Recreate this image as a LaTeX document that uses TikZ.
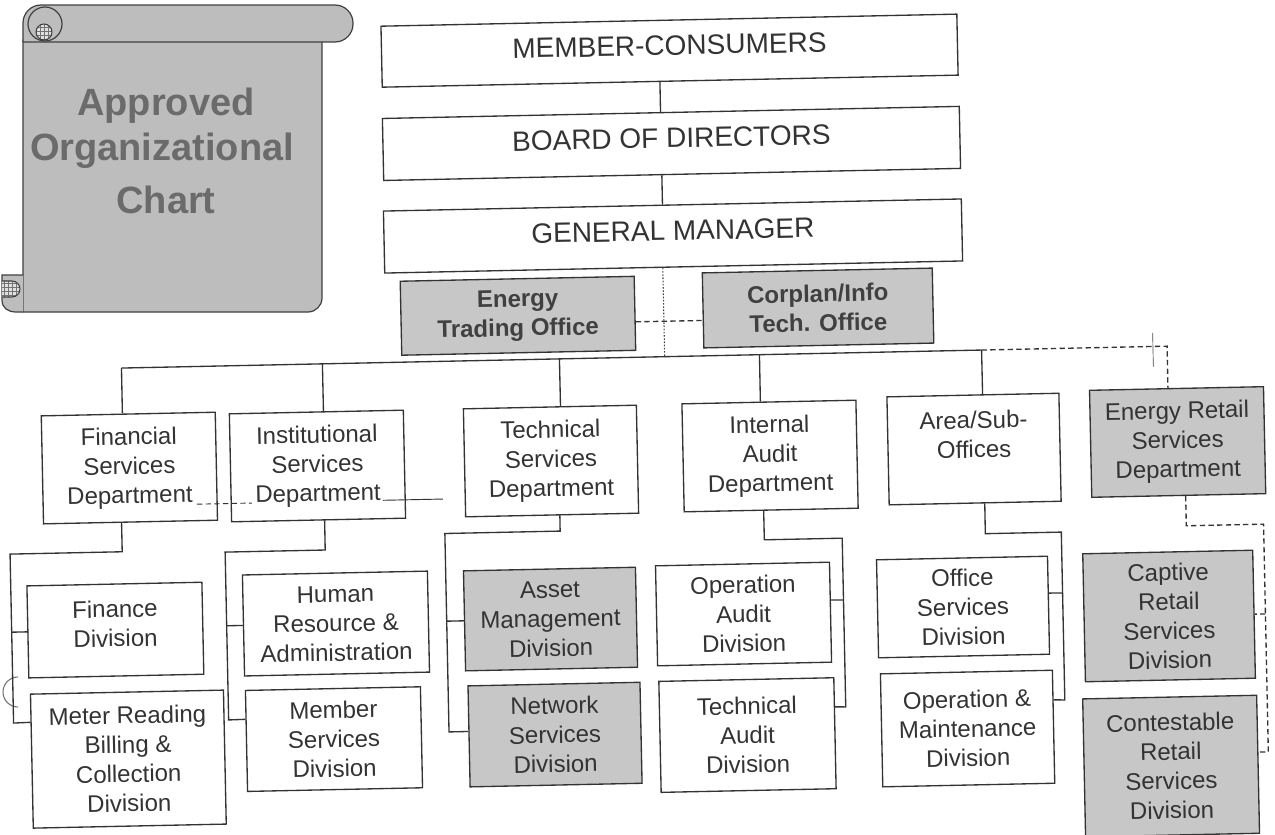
\documentclass[tikz,border=0pt]{standalone}
\usepackage{fontspec}
\setmainfont{Liberation Sans}
\usetikzlibrary{calc,patterns}
\begin{document}
\begin{tikzpicture}[x=0.75pt,y=-0.75pt,
  ln/.style={draw=black!80, line width=1pt},
  dln/.style={ln, dash pattern=on 4pt off 2.5pt},
  dotline/.style={draw=black!75, line width=.8pt, dash pattern=on 1.2pt off 1.2pt},
  box/.style={draw=black!80, line width=1pt, rectangle, inner sep=0pt, align=center, text=black!80, font=\fontsize{18}{22}\selectfont},
  shd/.style={box, fill=black!22},
  shdb/.style={shd, font=\fontsize{18}{22}\selectfont\bfseries, text=black!75},
  topbox/.style={box, font=\fontsize{21}{25}\selectfont, text depth=8pt},
  boxsize/.style 2 args={minimum width={#1*0.75pt}, minimum height={#2*0.75pt}},
  scrollfill/.style={fill=black!26, draw=black!75, line width=0.9pt},
  hatch/.style={pattern=grid, pattern color=black!55},
  ttl/.style={font=\fontsize{28.5}{34}\selectfont\bfseries, text=black!58, inner sep=0pt, anchor=base}
]
\useasboundingbox (0,0) rectangle (1275,835);

% ---------- scroll ----------
\path[scrollfill] (23,40) -- (23,312) -- (308,312) arc[start angle=90,end angle=0,radius=14] -- (322,40) -- cycle;
\path[scrollfill] (23,275) -- (2,275) -- (2,300) .. controls (2,308) and (8,312) .. (16,312) -- (23,312);
\path[fill=black!12] (2,281) -- (12,281) arc[start angle=-90,end angle=90,radius=8] -- (2,297) -- cycle;
\path[hatch] (2,281) -- (12,281) arc[start angle=-90,end angle=90,radius=8] -- (2,297) -- cycle;
\draw[black!75, line width=.8pt] (2,281) -- (12,281) arc[start angle=-90,end angle=90,radius=8] -- (2,297);
\path[scrollfill, rounded corners=13.5pt] (23,42) -- (23,5) -- (353,5) -- (353,42) -- (23,42);
\path[scrollfill] (45,24) circle[radius=17];
\path[fill=black!12] (44,32) circle[radius=8];
\path[hatch] (44,32) circle[radius=8];
\draw[black!75, line width=.8pt] (44,32) circle[radius=8];
\node[ttl] (t1) at (166,115) {Approved};
\node[ttl] (t2) at (162,160) {Organizational};
\node[ttl] (t3) at (166,213) {Chart};

% punch hole
\draw[black!55, line width=.8pt] (18,677) arc[start angle=270,end angle=90,radius=15];

\begin{scope}[rotate around={1.2:(637,417)}, transform shape]
% top
\node[topbox, boxsize={576}{61}] (mc) at (677.2,51.4) {MEMBER-CONSUMERS};
\node[topbox, boxsize={577}{62}] (bod) at (677.2,144.2) {BOARD OF DIRECTORS};
\node[topbox, boxsize={578}{62}] (gm) at (676.8,236.8) {GENERAL MANAGER};
\node[shdb, boxsize={234}{74}] (et) at (520.1,313.3) {Energy\\Trading Office};
\node[shdb, boxsize={230}{75}] (ct) at (820.3,311.8) {Corplan/Info\\Tech. Office};
% departments
\node[box, boxsize={174}{108}] (fsd) at (128.4,457.4) {Financial\\Services\\Department};
\node[box, boxsize={174}{108}] (isd) at (316.5,459.3) {Institutional\\Services\\Department};
\node[box, boxsize={173}{108}] (tsd) at (550.1,459.2) {Technical\\Services\\Department};
\node[box, boxsize={174}{108}] (iad) at (769.2,458.8) {Internal\\Audit\\Department};
\node[box, boxsize={172}{108}] (aso) at (973.3,456.1) {Area/Sub-\\Offices\\~};
\node[shd, boxsize={174}{107}] (ers) at (1177,453.3) {Energy Retail\\Services\\Department};
% divisions
\node[box, boxsize={175}{92}] (fin) at (111,619.1) {Finance\\Division\\[-12pt]~};
\node[box, boxsize={193}{134}] (mrb) at (121.3,748.4) {Meter Reading\\Billing \&\\Collection\\Division};
\node[box, boxsize={185}{101}] (hr) at (331.7,617.2) {Human\\Resource \&\\Administration};
\node[box, boxsize={175}{101}] (msd) at (327.3,732.7) {Member\\Services\\Division};
\node[shd, boxsize={172}{100}] (amd) at (546.3,617.2) {Asset\\Management\\Division};
\node[shd, boxsize={172}{101}] (nsd) at (548.4,732.8) {Network\\Services\\Division};
\node[box, boxsize={174}{100}] (oad) at (739.4,616.2) {Operation\\Audit\\Division};
\node[box, boxsize={175}{111}] (tad) at (740.8,737.3) {Technical\\Audit\\Division};
\node[box, boxsize={171}{98}] (osd) at (959,613.8) {Office\\Services\\Division};
\node[box, boxsize={172}{113}] (omd) at (961,735.4) {Operation \&\\Maintenance\\Division};
\node[shd, boxsize={170}{128}] (crs) at (1164.8,627.1) {Captive\\Retail\\Services\\Division};
\node[shd, boxsize={174}{138}] (cns) at (1163.7,777.2) {Contestable\\Retail\\Services\\Division};

% top spine
\draw[ln] ($(mc.south west)!0.4823!(mc.south east)$) -- ($(bod.north west)!0.4823!(bod.north east)$);
\draw[ln] ($(bod.south west)!0.4823!(bod.south east)$) -- ($(gm.north west)!0.483!(gm.north east)$);
\coordinate (bd) at (666,357.3);
\draw[dotline] ($(gm.south west)!0.4813!(gm.south east)$) -- (bd);
\draw[dln] ($(et.north east)!0.6135!(et.south east)$) -- ($(ct.north west)!0.632!(ct.south west)$);

% bus
\coordinate (b1) at (122.6,357.3);
\coordinate (b2) at (323.6,357.3);
\coordinate (b3) at (560.7,357.3);
\coordinate (b4) at (760.8,357.3);
\coordinate (b5) at (983,357.3);
\coordinate (b6) at (1168.6,357.3);
\draw[ln] (b1) -- (b5);
\draw[dln] (b5) -- (b6) -- ($(ers.north west)!0.4517!(ers.north east)$);
\draw[ln] (b1) -- ($(fsd.north west)!0.4667!(fsd.north east)$);
\draw[ln] (b2) -- ($(isd.north west)!0.5408!(isd.north east)$);
\draw[ln] (b3) -- ($(tsd.north west)!0.5613!(tsd.north east)$);
\draw[ln] (b4) -- ($(iad.north west)!0.4517!(iad.north east)$);
\draw[ln] (b5) -- ($(aso.north west)!0.5564!(aso.north east)$);
\coordinate (k1) at (1154.4,343.8);
\coordinate (k2) at (1154.4,377.8);
\draw[black!70, line width=.5pt] (k1) -- (k2);

% stray line between financial and institutional
\coordinate (s1) at (195.2,495);
\coordinate (s2) at (250.2,495);
\coordinate (s3) at (381.3,495);
\coordinate (s4) at (441.3,495);
\draw[dln, line width=.7pt] (s1) -- (s2);
\draw[ln, line width=.7pt] (s3) -- (s4);

% financial subtree
\coordinate (f1) at (119.5,541);
\coordinate (f2) at (7.3,541);
\coordinate (f3) at (7.3,710);
\coordinate (f4) at (7.3,619.1);
\draw[ln] ($(fsd.south west)!0.4489!(fsd.south east)$) -- (f1) -- (f2) -- (f3) -- ($(mrb.north west)!0.2134!(mrb.south west)$);
\draw[ln] (f4) -- (fin.west);

% institutional subtree
\coordinate (i1) at (322.5,543.5);
\coordinate (i2) at (222.4,543.5);
\coordinate (i3) at (222.4,711.4);
\coordinate (i4) at (222.4,617.2);
\draw[ln] ($(isd.south west)!0.5345!(isd.south east)$) -- (i1) -- (i2) -- (i3) -- ($(msd.north west)!0.289!(msd.south west)$);
\draw[ln] (i4) -- (hr.west);

% technical subtree
\coordinate (q1) at (557.8,529.5);
\coordinate (q2) at (442.5,529.5);
\coordinate (q3) at (442.5,728);
\coordinate (q4) at (442.5,617.2);
\draw[ln] ($(tsd.south west)!0.5445!(tsd.south east)$) -- (q1) -- (q2) -- (q3) -- ($(nsd.north west)!0.4525!(nsd.south west)$);
\draw[ln] (q4) -- (amd.west);

% internal audit subtree
\coordinate (a1) at (761.8,542.5);
\coordinate (a2) at (839.7,542.5);
\coordinate (a3) at (839.7,711.3);
\coordinate (a4) at (839.7,604.3);
\draw[ln] ($(iad.south west)!0.4575!(iad.south east)$) -- (a1) -- (a2) -- (a3) -- ($(tad.north east)!0.2658!(tad.south east)$);
\draw[ln] (a4) -- ($(oad.north east)!0.381!(oad.south east)$);

% area subtree
\coordinate (r1) at (982.9,541);
\coordinate (r2) at (1058.9,541);
\coordinate (r3) at (1058.9,708.9);
\coordinate (r4) at (1058.9,601.9);
\draw[ln] ($(aso.south west)!0.5558!(aso.south east)$) -- (r1) -- (r2) -- (r3) -- ($(omd.north east)!0.2655!(omd.south east)$);
\draw[ln] (r4) -- ($(osd.north east)!0.3786!(osd.south east)$);

% energy retail subtree
\coordinate (e1) at (1184,537.3);
\coordinate (e2) at (1261.3,537.3);
\coordinate (e3) at (1261.3,765.2);
\coordinate (e4) at (1261.3,627.1);
\draw[dln] ($(ers.south west)!0.5402!(ers.south east)$) -- (e1) -- (e2) -- (e3) -- ($(cns.north east)!0.413!(cns.south east)$);
\draw[dln] (e4) -- (crs.east);
\end{scope}
\end{tikzpicture}
\end{document}
